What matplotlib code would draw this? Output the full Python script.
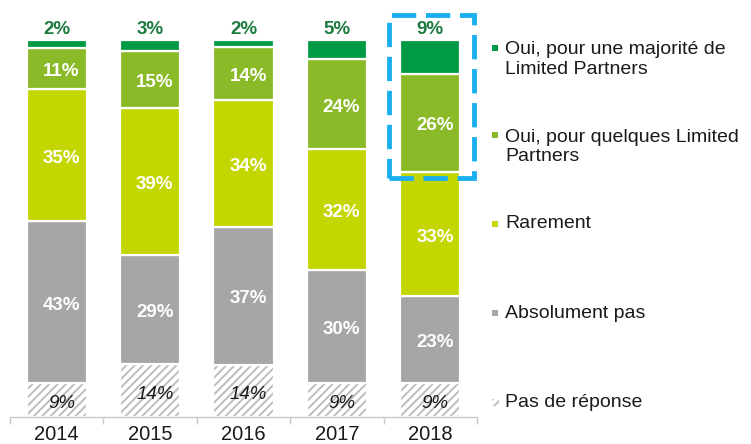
import numpy as np
import matplotlib
matplotlib.use("Agg")
from matplotlib import pyplot as plt
from matplotlib.patches import Rectangle

plt.rcParams['font.family'] = ['Liberation Sans', 'DejaVu Sans']
plt.rcParams['hatch.linewidth'] = 1.4

years = ["2014", "2015", "2016", "2017", "2018"]
pas_de_reponse = [9, 14, 14, 9, 9]
absolument_pas = [43, 29, 37, 30, 23]
rarement = [35, 39, 34, 32, 33]
oui_quelques = [11, 15, 14, 24, 26]
oui_majorite = [2, 3, 2, 5, 9]

legend_labels = ["Oui, pour une majorité de\nLimited Partners",
                 "Oui, pour quelques Limited\nPartners",
                 "Rarement", "Absolument pas", "Pas de réponse"]

c_major = "#009a44"
c_major_txt = "#1d7b3f"
c_quelq = "#8aba28"
c_rare = "#c4d600"
c_abs = "#a6a6a6"
c_hatch = "#bcbcbc"

# 100% stacked: scale each year to its total
series = [pas_de_reponse, absolument_pas, rarement, oui_quelques, oui_majorite]
totals = np.sum(np.array(series, dtype=float), axis=0)
scaled = [np.array(s) / totals * 100 for s in series]

W, H = 751, 444
fig = plt.figure(figsize=(W / 100, H / 100), dpi=100)
ax = fig.add_axes([10 / W, 27 / H, 467 / W, 417 / H])
ax.set_xlim(-0.5, 4.5)
ax.set_ylim(0, 417 / 377 * 100)

x = np.arange(len(years))
bw = 0.645
edge = dict(edgecolor="white", linewidth=1.6)

ax.bar(x, scaled[0], bw, color="white", edgecolor=c_hatch, linewidth=0, hatch="////")
ax.bar(x, scaled[0], bw, fill=False, **edge)
bottom = scaled[0].copy()
cols = [c_abs, c_rare, c_quelq, c_major]
for vals, col in zip(scaled[1:], cols):
    ax.bar(x, vals, bw, bottom=bottom, color=col, **edge)
    bottom = bottom + vals

fs = 13.5
dx = 0.05
for i in range(len(years)):
    h0 = scaled[0][i]
    ax.text(x[i] + dx, h0 / 2 - 1, f"{pas_de_reponse[i]}%", ha="center", va="center",
            fontsize=fs, style="italic", color="#1a1a1a")
    b = h0
    for k, raw in zip([1, 2, 3], [absolument_pas, rarement, oui_quelques]):
        hk = scaled[k][i]
        ax.text(x[i] + dx, b + hk / 2 - 0.8, f"{raw[i]}%", ha="center", va="center",
                fontsize=fs, fontweight="bold", color="white")
        b += hk
    ax.text(x[i], b + scaled[4][i] + 0.5, f"{oui_majorite[i]}%", ha="center", va="bottom",
            fontsize=fs, fontweight="bold", color=c_major_txt)

# highlight box around 2018 top segments
cum_2018 = scaled[0][4] + scaled[1][4] + scaled[2][4]
rect = Rectangle((3.56, cum_2018 - 1.5), 0.91, 106.6 - (cum_2018 - 1.5), fill=False,
                 edgecolor="#1ab0ee", linewidth=3.5, linestyle=(0, (5, 2)), clip_on=False)
ax.add_patch(rect)

for s in ["top", "right", "left"]:
    ax.spines[s].set_visible(False)
ax.spines["bottom"].set_color("#c8c8c8")
ax.spines["bottom"].set_linewidth(1.0)
ax.set_yticks([])
ax.set_xticks(x)
ax.set_xticklabels(years, fontsize=14.5, color="#1a1a1a")
ax.tick_params(axis="x", which="major", length=0, pad=6)
ax.set_xticks(np.arange(-0.5, 5, 1), minor=True)
ax.tick_params(axis="x", which="minor", length=5, color="#c8c8c8", width=1.0)

leg_cols = [c_major, c_quelq, c_rare, c_abs, None]
leg_sq_y = [48, 135, 224, 313, 402]
leg_txt_y = [59.5, 147, 224, 313, 402]
for lab, col, sy, ty in zip(legend_labels, leg_cols, leg_sq_y, leg_txt_y):
    if col is None:
        sq = Rectangle((492 / W, 1 - (sy + 3.5) / H), 7 / W, 7 / H, transform=fig.transFigure,
                       facecolor="white", edgecolor=c_hatch, linewidth=0, hatch="////")
    else:
        sq = Rectangle((492 / W, 1 - (sy + 3) / H), 6 / W, 6 / H, transform=fig.transFigure,
                       facecolor=col, linewidth=0)
    fig.patches.append(sq)
    fig.text(505 / W, 1 - ty / H, lab, ha="left", va="center", fontsize=14, color="#1a1a1a",
             linespacing=1.2)

fig.savefig("out.png", dpi=100)
